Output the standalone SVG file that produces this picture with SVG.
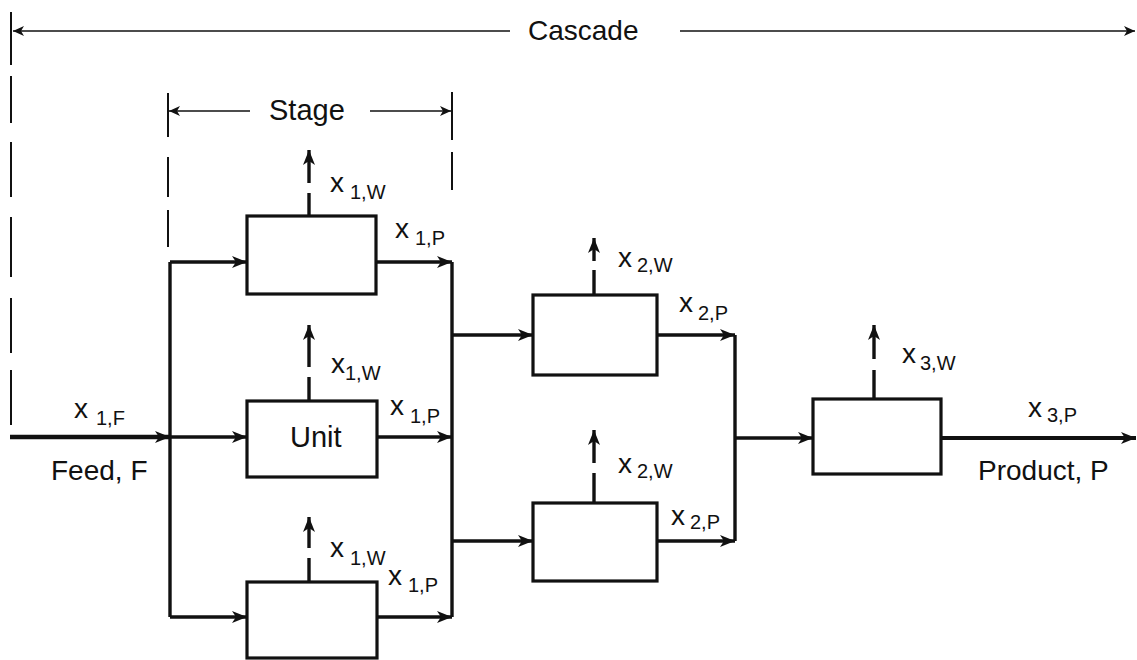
<svg xmlns="http://www.w3.org/2000/svg" width="1137" height="660" viewBox="0 0 1137 660">
<style>
.t{font-family:"Liberation Sans",Arial,sans-serif;fill:#111;}
.lbl{font-size:28px;}
.sub{font-size:20px;}
.box{fill:#fff;stroke:#111;stroke-width:3.2;}
.flow{fill:none;stroke:#111;stroke-width:3.4;}
.dim{fill:none;stroke:#111;stroke-width:1.6;}
.dash{fill:none;stroke:#111;stroke-width:2;}
</style>
<defs>
<marker id="ah" markerUnits="userSpaceOnUse" markerWidth="16" markerHeight="12" refX="15" refY="6" orient="auto">
<path d="M0,0 L15,6 L0,12 L4,6 z" fill="#111"/>
</marker>
<marker id="ahs" markerUnits="userSpaceOnUse" markerWidth="12" markerHeight="10" refX="11" refY="5" orient="auto">
<path d="M0,0 L11,5 L0,10 L3,5 z" fill="#111"/>
</marker>
</defs>

<g id="dimensions">
<path class="dash" d="M11,12 V65 M11,76 V123 M11,142 V197 M11,217 V277 M11,298 V353 M11,370 V425"/>
<line class="dim" x1="510" y1="31" x2="13" y2="31" marker-end="url(#ahs)"/>
<line class="dim" x1="680" y1="31" x2="1135" y2="31" marker-end="url(#ahs)"/>
<text class="t lbl" x="528" y="40">Cascade</text>
<path class="dash" d="M168,93 V137 M168,157 V197 M168,210 V247"/>
<path class="dash" d="M452,92 V140 M452,152 V190"/>
<line class="dim" x1="250" y1="111" x2="169" y2="111" marker-end="url(#ahs)"/>
<line class="dim" x1="370" y1="111" x2="451" y2="111" marker-end="url(#ahs)"/>
<text class="t" x="269" y="120" style="font-size:29px">Stage</text>
</g>

<g id="connectors">
<line class="flow" x1="10" y1="437" x2="170" y2="437" style="stroke-width:4.5" marker-end="url(#ah)"/>
<path class="flow" d="M170,262 V617"/>
<line class="flow" x1="170" y1="262" x2="247" y2="262" marker-end="url(#ah)"/>
<line class="flow" x1="170" y1="437" x2="247" y2="437" marker-end="url(#ah)"/>
<line class="flow" x1="170" y1="617" x2="247" y2="617" marker-end="url(#ah)"/>
<line class="flow" x1="376" y1="262" x2="452" y2="262" marker-end="url(#ah)"/>
<line class="flow" x1="377" y1="437" x2="452" y2="437" marker-end="url(#ah)"/>
<line class="flow" x1="377" y1="617" x2="452" y2="617" marker-end="url(#ah)"/>
<path class="flow" d="M452,262 V617"/>
<line class="flow" x1="452" y1="335" x2="533" y2="335" marker-end="url(#ah)"/>
<line class="flow" x1="452" y1="541" x2="533" y2="541" marker-end="url(#ah)"/>
<line class="flow" x1="657" y1="335" x2="735" y2="335" marker-end="url(#ah)"/>
<line class="flow" x1="657" y1="541" x2="735" y2="541" marker-end="url(#ah)"/>
<path class="flow" d="M735,335 V541"/>
<line class="flow" x1="735" y1="438" x2="813" y2="438" marker-end="url(#ah)"/>
<line class="flow" x1="941" y1="438" x2="1136" y2="438" style="stroke-width:4" marker-end="url(#ah)"/>
<!-- waste streams -->
<path class="flow" d="M309,216 V193"/><line class="flow" x1="309" y1="183" x2="309" y2="150" marker-end="url(#ah)"/>
<path class="flow" d="M309,401 V377"/><line class="flow" x1="309" y1="367" x2="309" y2="325" marker-end="url(#ah)"/>
<path class="flow" d="M309,582 V558"/><line class="flow" x1="309" y1="548" x2="309" y2="517" marker-end="url(#ah)"/>
<path class="flow" d="M594,295 V270"/><line class="flow" x1="594" y1="261" x2="594" y2="238" marker-end="url(#ah)"/>
<path class="flow" d="M594,503 V473"/><line class="flow" x1="594" y1="463" x2="594" y2="430" marker-end="url(#ah)"/>
<path class="flow" d="M874,399 V370"/><line class="flow" x1="874" y1="359" x2="874" y2="325" marker-end="url(#ah)"/>
</g>

<g id="unit-1a"><rect class="box" x="247" y="216" width="129" height="78"/></g>
<g id="unit-1b"><rect class="box" x="247" y="401" width="130" height="76"/><text class="t" x="290" y="447" style="font-size:29px">Unit</text></g>
<g id="unit-1c"><rect class="box" x="247" y="582" width="130" height="76"/></g>
<g id="unit-2a"><rect class="box" x="533" y="295" width="124" height="80"/></g>
<g id="unit-2b"><rect class="box" x="533" y="503" width="124" height="78"/></g>
<g id="unit-3"><rect class="box" x="813" y="399" width="128" height="75"/></g>

<g id="labels">
<text class="t lbl" x="74" y="418">x</text><text class="t sub" x="96" y="425">1,F</text>
<text class="t lbl" x="51" y="480">Feed, F</text>
<text class="t lbl" x="330" y="192">x</text><text class="t sub" x="350" y="199">1,W</text>
<text class="t lbl" x="395" y="238">x</text><text class="t sub" x="415" y="245">1,P</text>
<text class="t lbl" x="331" y="373">x</text><text class="t sub" x="345" y="380">1,W</text>
<text class="t lbl" x="390" y="415">x</text><text class="t sub" x="410" y="423">1,P</text>
<text class="t lbl" x="330" y="557">x</text><text class="t sub" x="350" y="565">1,W</text>
<text class="t lbl" x="388" y="585">x</text><text class="t sub" x="408" y="592">1,P</text>
<text class="t lbl" x="618" y="267">x</text><text class="t sub" x="637" y="272">2,W</text>
<text class="t lbl" x="679" y="312">x</text><text class="t sub" x="698" y="320">2,P</text>
<text class="t lbl" x="618" y="473">x</text><text class="t sub" x="637" y="478">2,W</text>
<text class="t lbl" x="671" y="525">x</text><text class="t sub" x="690" y="529">2,P</text>
<text class="t lbl" x="902" y="363">x</text><text class="t sub" x="920" y="370">3,W</text>
<text class="t lbl" x="1028" y="417">x</text><text class="t sub" x="1047" y="422">3,P</text>
<text class="t lbl" x="978" y="480">Product, P</text>
</g>
</svg>
